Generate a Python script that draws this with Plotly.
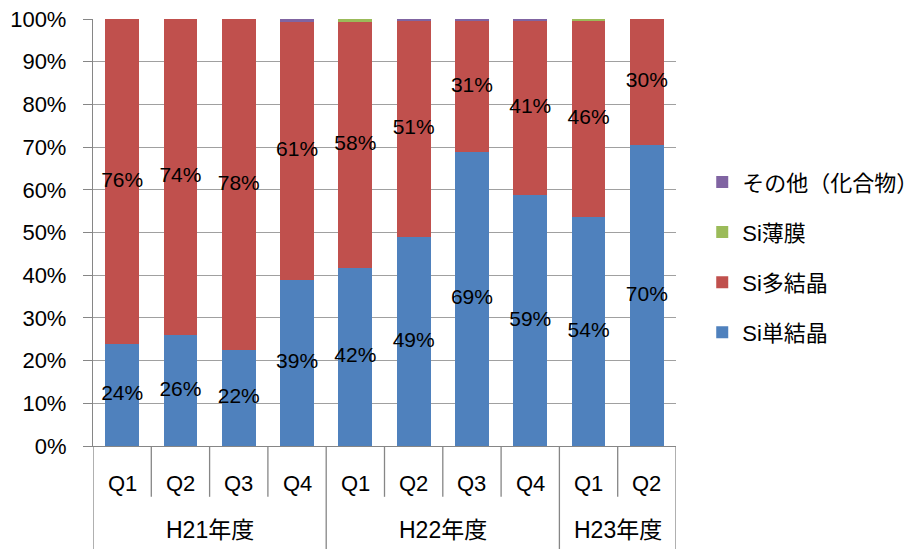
import plotly.graph_objects as go

years = ["H21年度", "H22年度", "H23年度"]
year_counts = [4, 4, 2]
quarters = ["Q1", "Q2", "Q3", "Q4", "Q1", "Q2", "Q3", "Q4", "Q1", "Q2"]

si_mono = [23.9, 26.0, 22.4, 38.8, 41.8, 48.9, 68.9, 58.9, 53.6, 70.4]
si_thin = [0.0, 0.0, 0.0, 0.0, 0.6, 0.0, 0.0, 0.0, 0.5, 0.0]
other = [0.0, 0.0, 0.0, 0.6, 0.0, 0.5, 0.5, 0.5, 0.0, 0.0]
si_poly = [round(100 - a - b - c, 1) for a, b, c in zip(si_mono, si_thin, other)]

FONT = "Liberation Sans, Noto Sans CJK JP, sans-serif"
FS = 21
AXIS_C = "#868686"
GRID_C = "#A0A0A0"

x = list(range(len(quarters)))

fig = go.Figure()
fig.add_bar(x=x, y=si_mono, name="Si単結晶", marker_color="#4F81BD", width=0.58,
            marker_line_width=0, legendrank=4, legendgroup="g4")
fig.add_bar(x=x, y=si_poly, name="Si多結晶", marker_color="#C0504D", width=0.58,
            marker_line_width=0, legendrank=3, legendgroup="g3")
fig.add_bar(x=x, y=si_thin, name="Si薄膜", marker_color="#9BBB59", width=0.58,
            marker_line_width=0, legendrank=2, legendgroup="g2")
fig.add_bar(x=x, y=other, name="その他（化合物）", marker_color="#8064A2", width=0.58,
            marker_line_width=0, legendrank=1, legendgroup="g1")

# data labels (centered in segments)
mono_mid = [v / 2 for v in si_mono]
poly_mid = [m + p / 2 for m, p in zip(si_mono, si_poly)]
fig.add_scatter(x=x, y=mono_mid, mode="text", text=[f"{v:.0f}%" for v in si_mono],
                textfont=dict(size=FS, color="black", family=FONT),
                showlegend=False, hoverinfo="skip")
fig.add_scatter(x=x, y=poly_mid, mode="text", text=[f"{v:.0f}%" for v in si_poly],
                textfont=dict(size=FS, color="black", family=FONT),
                showlegend=False, hoverinfo="skip")

# multi-level category axis drawn with annotations and divider lines
shapes = []
annotations = []
for i, q in enumerate(quarters):
    annotations.append(dict(x=i, y=-0.087, xref="x", yref="paper", text=q,
                            showarrow=False, font=dict(size=22, family=FONT),
                            xanchor="center", yanchor="middle"))
start = 0
boundaries = [-0.5]
for yname, cnt in zip(years, year_counts):
    annotations.append(dict(x=start + (cnt - 1) / 2, y=-0.197, xref="x", yref="paper",
                            text=yname, showarrow=False, font=dict(size=23, family=FONT),
                            xanchor="center", yanchor="middle"))
    start += cnt
    boundaries.append(start - 0.5)
for k in range(len(quarters) + 1):
    xb = k - 0.5
    y1 = -0.26 if xb in boundaries else -0.119
    shapes.append(dict(type="line", xref="x", yref="paper", x0=xb, x1=xb, y0=0, y1=y1,
                       line=dict(color=AXIS_C, width=1.3)))

fig.update_layout(
    barmode="stack",
    width=920, height=549,
    margin=dict(l=85, r=252, t=11, b=111, autoexpand=False),
    paper_bgcolor="white", plot_bgcolor="white",
    font=dict(family=FONT, size=FS, color="black"),
    shapes=shapes,
    annotations=annotations,
    legend=dict(x=1.045, y=0.667, yanchor="top", xanchor="left",
                traceorder="grouped", tracegroupgap=18.5,
                font=dict(size=22, family=FONT), itemwidth=30),
    showlegend=True,
)
fig.update_yaxes(range=[0, 100], dtick=10, ticksuffix="%", showgrid=True,
                 gridcolor=GRID_C, gridwidth=1, showline=True, linecolor=AXIS_C,
                 linewidth=1.3, ticks="outside", ticklen=9, tickcolor=AXIS_C,
                 zeroline=False, tickfont=dict(size=22), automargin=False,
                 ticklabelstandoff=12, ticklabeloverflow="allow")
fig.update_xaxes(range=[-0.5, 9.5], showline=True, linecolor=AXIS_C, linewidth=1.3,
                 showticklabels=False, ticks="", showgrid=False, zeroline=False,
                 automargin=False)

fig.write_html("out.html")
